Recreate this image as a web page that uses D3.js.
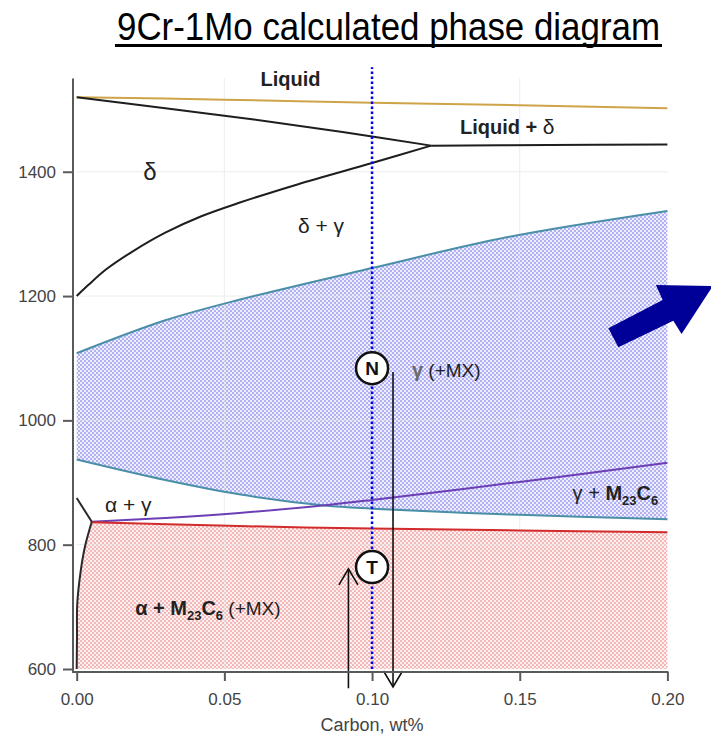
<!DOCTYPE html>
<html><head><meta charset="utf-8">
<script src="https://cdn.jsdelivr.net/npm/d3@7"></script>
<style>
body{margin:0;background:#fff}
svg{display:block}
text{font-family:"Liberation Sans",Arial,Helvetica,sans-serif}
</style>
</head><body>
<svg id="c" width="711" height="736"></svg>
<script>
// ---------- data ----------
const xTicks = [0, 0.05, 0.10, 0.15, 0.20];
const yTicks = [600, 800, 1000, 1200, 1400];

const liquidusC = [0, 0.05, 0.10, 0.15, 0.20];
const liquidusT = [1520, 1516, 1511, 1507, 1502];

const solidusC = [0, 0.03, 0.06, 0.09, 0.12];
const solidusT = [1520, 1502, 1484, 1464, 1442];

const peritecticC = [0.12, 0.16, 0.20];
const peritecticT = [1442, 1443, 1444];

const deltaGammaC = [0, 0.004, 0.01, 0.019, 0.03, 0.042, 0.055, 0.075, 0.10, 0.12];
const deltaGammaT = [1200, 1218, 1243, 1272, 1302, 1328, 1350, 1380, 1414, 1442];

const gammaUpperC = [0, 0.03, 0.055, 0.10, 0.146, 0.20];
const gammaUpperT = [1108, 1161, 1194, 1245, 1295, 1337];

const gammaLowerC = [0, 0.03, 0.055, 0.084, 0.10, 0.15, 0.20];
const gammaLowerT = [937, 904, 881, 863, 858, 848, 841];

const m23c6C = [0.0051, 0.03, 0.055, 0.085, 0.10, 0.15, 0.20];
const m23c6T = [837, 843, 851, 864, 872, 901, 932];

const a1C = [0.0051, 0.055, 0.10, 0.15, 0.20];
const a1T = [836, 830, 826, 823, 820];

const alphaC = [0, 0.0001, 0.0002, 0.0014, 0.0028, 0.0051];
const alphaT = [600, 652, 706, 759, 797, 837];

const alphaGammaC = [0, 0.0051];
const alphaGammaT = [875, 837];

// annotations (data units)
const compC = 0.10;                 // alloy composition line
const compT = [600, 1568];
const circleN = {c: 0.10, t: 1084, label: "N"};
const circleT = {c: 0.10, t: 764, label: "T"};
const coolArrow = {c: 0.1071, t0: 1078, t1: 571};
const heatArrow = {c: 0.092, t0: 569, t1: 761};
const bigArrowC = [0.1800, 0.1984, 0.1961, 0.2154, 0.2048, 0.2020, 0.1834];
const bigArrowT = [1148.1, 1193.6, 1217.8, 1216.2, 1138.9, 1160.3, 1117.6];

// ---------- setup ----------
const svg = d3.select("#c");
const x = d3.scaleLinear().domain([0, 0.2]).range([76.7, 667.4]);
const y = d3.scaleLinear().domain([600, 1550]).range([669, 78.5]);
const pts = (cs, ts) => cs.map((c, i) => [c, ts[i]]);
const line = d3.line().x(d => x(d[0])).y(d => y(d[1])).curve(d3.curveCatmullRom.alpha(0.5));
const straight = d3.line().x(d => x(d[0])).y(d => y(d[1]));

// patterns
const defs = svg.append("defs");
function pat(id, bg, fg) {
  const p = defs.append("pattern").attr("id", id).attr("width", 4).attr("height", 4)
    .attr("patternUnits", "userSpaceOnUse");
  p.append("rect").attr("width", 4).attr("height", 4).attr("fill", bg);
  p.append("rect").attr("x", 0).attr("y", 0).attr("width", 2).attr("height", 2).attr("fill", fg);
  p.append("rect").attr("x", 2).attr("y", 2).attr("width", 2).attr("height", 2).attr("fill", fg);
}
pat("bluePat", "#eeeefd", "#b0b0f2");
pat("redPat", "#fdf0f0", "#f4b8b8");

// title
svg.append("text").attr("x", 117).attr("y", 40)
  .attr("font-size", 38).attr("fill", "#000")
  .attr("textLength", 543).attr("lengthAdjust", "spacingAndGlyphs")
  .style("font-family", "'Liberation Sans Narrow','Liberation Sans',Arial,sans-serif")
  .text("9Cr-1Mo calculated phase diagram");
svg.append("rect").attr("x", 115).attr("y", 44).attr("width", 547).attr("height", 3).attr("fill", "#000");

// fills
const upper = pts(gammaUpperC, gammaUpperT);
const lower = pts(gammaLowerC, gammaLowerT);
const bluePath = line(upper) + line(lower.slice().reverse()).replace(/^M/, "L") + "Z";
svg.append("path").attr("d", bluePath).attr("fill", "url(#bluePat)");

const redTop = pts(a1C, a1T);
const alphaB = pts(alphaC, alphaT);
const redPath = line(redTop) + "L" + x(0.2) + "," + y(600) + line(alphaB).replace(/^M/, "L") + "Z";
svg.append("path").attr("d", redPath).attr("fill", "url(#redPat)");

// grid
const grid = svg.append("g").attr("stroke", "#e6e6e6").attr("stroke-width", 1).attr("opacity", 0.7);
yTicks.slice(1).forEach(t => grid.append("line").attr("x1", x(0)).attr("x2", x(0.2)).attr("y1", y(t)).attr("y2", y(t)));
xTicks.slice(1, -1).forEach(c => grid.append("line").attr("x1", x(c)).attr("x2", x(c)).attr("y1", y(1550)).attr("y2", y(600)));

// boundary lines
function bl(cs, ts, color, curve = true) {
  svg.append("path").attr("d", (curve ? line : straight)(pts(cs, ts)))
    .attr("fill", "none").attr("stroke", color).attr("stroke-width", 2);
}
bl(liquidusC, liquidusT, "#cfa448");
bl(solidusC, solidusT, "#1e1e1e");
bl(peritecticC, peritecticT, "#1e1e1e");
bl(deltaGammaC, deltaGammaT, "#1e1e1e");
bl(gammaUpperC, gammaUpperT, "#4a8fa8");
bl(gammaLowerC, gammaLowerT, "#4a8fa8");
bl(m23c6C, m23c6T, "#6c3fb5");
bl(a1C, a1T, "#d22b2b");
bl(alphaC, alphaT, "#2a2a2a");
bl(alphaGammaC, alphaGammaT, "#2a2a2a", false);

// composition line
svg.append("line").attr("x1", x(compC)).attr("x2", x(compC)).attr("y1", y(compT[0])).attr("y2", y(compT[1]))
  .attr("stroke", "#0000ff").attr("stroke-width", 2.5).attr("stroke-dasharray", "2.5,2.5");

// arrows
function arrow(a, down) {
  const g = svg.append("g").attr("stroke", "#111").attr("stroke-width", 1.6).attr("fill", "none");
  const xx = x(a.c), ya = y(a.t0), yb = y(a.t1);
  g.append("line").attr("x1", xx).attr("x2", xx).attr("y1", ya).attr("y2", yb);
  const dir = down ? -1 : 1;
  g.append("path").attr("d", `M${xx - 9.5},${yb + dir * 16}L${xx},${yb}L${xx + 9.5},${yb + dir * 16}`);
}
arrow(coolArrow, true);
arrow(heatArrow, false);

// circles
[circleN, circleT].forEach(d => {
  svg.append("circle").attr("cx", x(d.c)).attr("cy", y(d.t)).attr("r", 16)
    .attr("fill", "#fff").attr("stroke", "#111").attr("stroke-width", 2.5);
  svg.append("text").attr("x", x(d.c)).attr("y", y(d.t) + 6.5).attr("text-anchor", "middle")
    .attr("font-size", 19).attr("font-weight", "bold").attr("fill", "#111").text(d.label);
});

// labels
function lab(c, t, anchor, parts) {
  const tx = svg.append("text").attr("x", x(c)).attr("y", y(t)).attr("text-anchor", anchor).attr("fill", "#222");
  parts.forEach(p => {
    const s = tx.append("tspan").text(p.s).attr("font-size", p.size || 20)
      .attr("font-weight", p.bold ? "bold" : "normal");
    if (p.dy) s.attr("dy", p.dy);
    if (p.fill) s.attr("fill", p.fill);
  });
}
lab(0.0724, 1538, "middle", [{s: "Liquid", bold: true}]);
lab(0.1458, 1461, "middle", [{s: "Liquid + ", bold: true}, {s: "δ", size: 21}]);
lab(0.0248, 1387, "middle", [{s: "δ", size: 24}]);
lab(0.0827, 1301, "middle", [{s: "δ + γ", size: 21}]);
lab(0.1135, 1070, "start", [{s: "γ", bold: true, size: 20, fill: "#6a6a6a"}, {s: "  (+MX)", size: 19}]);
lab(0.1969, 872, "end", [{s: "γ + ", size: 20}, {s: "M", bold: true, size: 20}, {s: "23", bold: true, size: 13, dy: 5},
  {s: "C", bold: true, size: 20, dy: -5}, {s: "6", bold: true, size: 13, dy: 5}]);
lab(0.0096, 852.6, "start", [{s: "α + γ", size: 21}]);
lab(0.0198, 686.9, "start", [{s: "α + ", bold: true, size: 20}, {s: "M", bold: true, size: 20}, {s: "23", bold: true, size: 13, dy: 5},
  {s: "C", bold: true, size: 20, dy: -5}, {s: "6", bold: true, size: 13, dy: 5}, {s: " (+MX)", size: 19, dy: -5}]);

// big arrow
svg.append("path").attr("d", straight(pts(bigArrowC, bigArrowT)) + "Z").attr("fill", "#000099");

// axes
const axisColor = "#5a5a5a";
const yAxis = svg.append("g").attr("transform", "translate(73,0)")
  .call(d3.axisLeft(y).tickValues(yTicks).tickSize(10).tickPadding(7).tickSizeOuter(0).tickFormat(d3.format("d")));
const xAxis = svg.append("g").attr("transform", "translate(0,672)")
  .call(d3.axisBottom(x).tickValues(xTicks).tickSize(9).tickPadding(12).tickSizeOuter(0).tickFormat(d3.format(".2f")));
[yAxis, xAxis].forEach(g => {
  g.select(".domain").remove();
  g.selectAll(".tick line").attr("stroke", axisColor).attr("stroke-width", 2);
  g.selectAll(".tick text").attr("fill", "#444").attr("font-size", 17)
    .style("font-family", "'Liberation Sans',Arial,sans-serif");
});
svg.append("line").attr("x1", 73).attr("x2", 73).attr("y1", y(1550)).attr("y2", 673)
  .attr("stroke", axisColor).attr("stroke-width", 2);
svg.append("line").attr("x1", 72).attr("x2", x(0.2) + 1).attr("y1", 672).attr("y2", 672)
  .attr("stroke", axisColor).attr("stroke-width", 2);
svg.append("text").attr("x", x(0.1)).attr("y", 731).attr("text-anchor", "middle")
  .attr("font-size", 18).attr("fill", "#444").text("Carbon, wt%");
</script>
</body></html>
